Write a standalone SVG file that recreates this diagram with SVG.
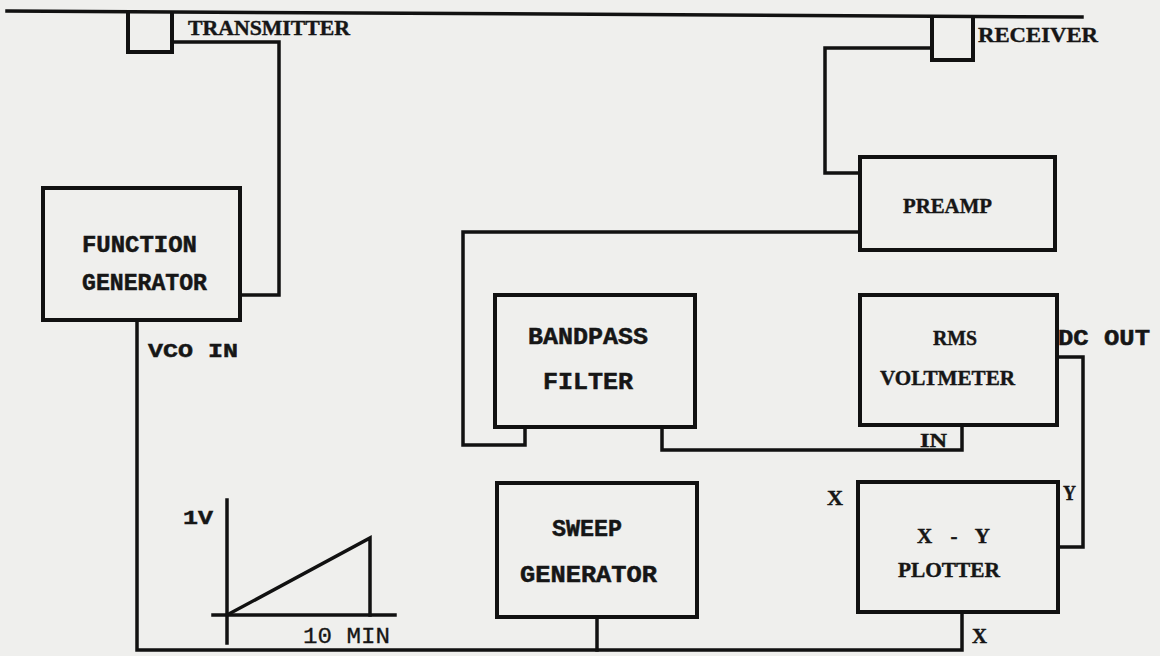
<svg xmlns="http://www.w3.org/2000/svg" width="1160" height="656" viewBox="0 0 1160 656">
<style>
.w{fill:none;stroke:#111;stroke-width:3.5;stroke-linejoin:miter;stroke-linecap:square}
.b{fill:none;stroke:#111;stroke-width:4}
.s{font-family:"Liberation Serif","DejaVu Serif",serif;font-weight:bold;fill:#161616;stroke:#161616;stroke-width:0.4}
.m{font-family:"Liberation Mono","DejaVu Sans Mono",monospace;font-weight:bold;fill:#161616;stroke:#161616;stroke-width:0.5}
.t{font-family:"Liberation Mono","DejaVu Sans Mono",monospace;fill:#161616;stroke:#161616;stroke-width:0.3}
</style>
<rect width="1160" height="656" fill="#efefed"/>
<g id="connectors">
<path class="w" d="M7,11 L1082,17"/>
<path class="w" d="M172,42 H279 V295 H240"/>
<path class="w" d="M932,48 H825 V173 H860"/>
<path class="w" d="M860,232 H463 V445 H525 V427"/>
<path class="w" d="M662,427 V450 H962 V427"/>
<path class="w" d="M1057,357 H1083 V547 H1058"/>
<path class="w" d="M137,320 V650 H962 V612"/>
<path class="w" d="M597,617 V650"/>
</g>
<g id="transmitter">
<path class="b" d="M128,11 V52 H172 V12"/>
<text class="s" x="188" y="35" font-size="20" textLength="162" lengthAdjust="spacingAndGlyphs">TRANSMITTER</text>
</g>
<g id="receiver">
<path class="b" d="M932,16 V60 H973 V17"/>
<text class="s" x="978" y="42" font-size="22" textLength="120" lengthAdjust="spacingAndGlyphs">RECEIVER</text>
</g>
<g id="function-generator">
<rect class="b" x="43" y="188" width="197" height="132"/>
<text class="m" x="82" y="252" font-size="23" textLength="115" lengthAdjust="spacingAndGlyphs">FUNCTION</text>
<text class="m" x="82" y="290" font-size="23" textLength="125" lengthAdjust="spacingAndGlyphs">GENERATOR</text>
</g>
<g id="vco-in">
<text class="m" x="148" y="357" font-size="21" textLength="90" lengthAdjust="spacingAndGlyphs">VCO IN</text>
</g>
<g id="ramp">
<path class="w" d="M227,500 V643"/>
<path class="w" d="M213,615 H395"/>
<path class="w" d="M227,615 L370,538 V615"/>
<text class="m" x="183" y="524" font-size="21" textLength="30" lengthAdjust="spacingAndGlyphs">1V</text>
<text class="t" x="303" y="643" font-size="22" textLength="87" lengthAdjust="spacingAndGlyphs">10 MIN</text>
</g>
<g id="bandpass-filter">
<rect class="b" x="495" y="295" width="200" height="132"/>
<text class="m" x="528" y="344" font-size="23" textLength="120" lengthAdjust="spacingAndGlyphs">BANDPASS</text>
<text class="m" x="543" y="389" font-size="23" textLength="90" lengthAdjust="spacingAndGlyphs">FILTER</text>
</g>
<g id="sweep-generator">
<rect class="b" x="497" y="483" width="200" height="134"/>
<text class="m" x="552" y="536" font-size="23" textLength="70" lengthAdjust="spacingAndGlyphs">SWEEP</text>
<text class="m" x="520" y="582" font-size="23" textLength="137" lengthAdjust="spacingAndGlyphs">GENERATOR</text>
</g>
<g id="preamp">
<rect class="b" x="860" y="157" width="195" height="93"/>
<text class="s" x="903" y="213" font-size="22" textLength="89" lengthAdjust="spacingAndGlyphs">PREAMP</text>
</g>
<g id="rms-voltmeter">
<rect class="b" x="860" y="295" width="197" height="130"/>
<text class="s" x="933" y="345" font-size="21" textLength="44" lengthAdjust="spacingAndGlyphs">RMS</text>
<text class="s" x="880" y="385" font-size="21" textLength="135" lengthAdjust="spacingAndGlyphs">VOLTMETER</text>
<text class="m" x="1058" y="345" font-size="22" textLength="92" lengthAdjust="spacingAndGlyphs">DC OUT</text>
<text class="s" x="920" y="447" font-size="19" textLength="27" lengthAdjust="spacingAndGlyphs">IN</text>
</g>
<g id="xy-plotter">
<rect class="b" x="858" y="482" width="200" height="130"/>
<text class="s" x="917" y="543" font-size="21" textLength="73" lengthAdjust="spacing">X - Y</text>
<text class="s" x="898" y="577" font-size="21" textLength="102" lengthAdjust="spacingAndGlyphs">PLOTTER</text>
<text class="s" x="827" y="505" font-size="21" textLength="16" lengthAdjust="spacingAndGlyphs">X</text>
<text class="s" x="1063" y="500" font-size="21" textLength="13" lengthAdjust="spacingAndGlyphs">Y</text>
<text class="s" x="972" y="643" font-size="21" textLength="15" lengthAdjust="spacingAndGlyphs">X</text>
</g>
</svg>
